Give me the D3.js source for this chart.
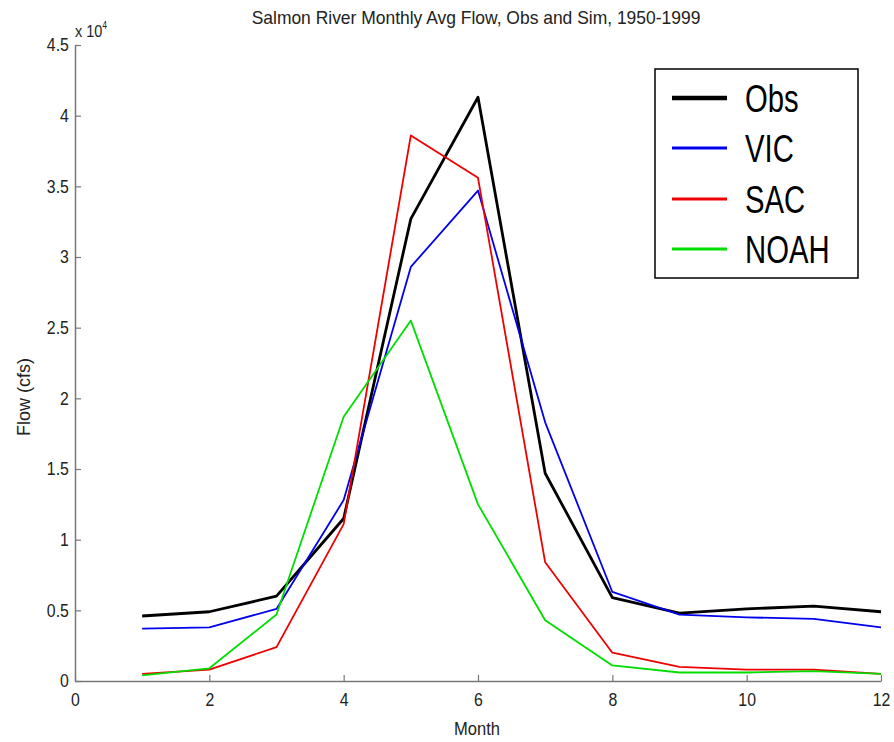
<!DOCTYPE html>
<html><head><meta charset="utf-8">
<script src="https://cdn.jsdelivr.net/npm/d3@7"></script>
<style>
body{margin:0;background:#fff;}
svg{display:block;}
text{font-family:"Liberation Sans",Arial,sans-serif;}
</style></head>
<body>
<svg id="c" width="894" height="742"></svg>
<script>
const months = [1,2,3,4,5,6,7,8,9,10,11,12];
const obs  = [0.46,0.49,0.60,1.15,3.27,4.13,1.47,0.59,0.48,0.51,0.53,0.49];
const vic  = [0.37,0.38,0.51,1.28,2.93,3.47,1.83,0.63,0.47,0.45,0.44,0.38];
const sac  = [0.05,0.08,0.24,1.11,3.86,3.56,0.84,0.20,0.10,0.08,0.08,0.05];
const noah = [0.04,0.09,0.47,1.87,2.55,1.25,0.43,0.11,0.06,0.06,0.07,0.05];
const seriesNames = ["Obs","VIC","SAC","NOAH"];
const seriesColors = ["#000000","#0000ee","#ee0000","#00dd00"];
const xTicks = [0,2,4,6,8,10,12];
const yTicks = [0,0.5,1,1.5,2,2.5,3,3.5,4,4.5];
const series = [obs,vic,sac,noah];

const svg = d3.select("#c");
const x = d3.scaleLinear().domain([0,12]).range([75,881]);
const y = d3.scaleLinear().domain([0,4.5]).range([681,45]);

// axes
const xAxis = svg.append("g").attr("transform","translate(0,681)")
  .call(d3.axisBottom(x).tickValues(xTicks).tickSizeInner(-6).tickSizeOuter(0).tickPadding(12));
const yAxis = svg.append("g").attr("transform","translate(75,0)")
  .call(d3.axisLeft(y).tickValues(yTicks).tickSizeInner(-6).tickSizeOuter(0).tickPadding(7)
    .tickFormat(d=>d===0?"0":String(d)));
[xAxis,yAxis].forEach(a=>{
  a.select(".domain").attr("stroke","#777").attr("stroke-width",1.5);
  a.selectAll(".tick line").attr("stroke","#777").attr("stroke-width",1.2);
  a.selectAll(".tick text").attr("fill","#222").style("font-size","18px")
    .attr("transform","scale(0.88,1)");
});

// lines
const line = d3.line().x((d,i)=>x(months[i])).y(d=>y(d));
series.forEach((s,k)=>{
  svg.append("path").datum(s).attr("d",line).attr("fill","none")
    .attr("stroke",seriesColors[k]).attr("stroke-width",k===0?2.8:1.8)
    .attr("stroke-linejoin","round");
});

function label(txt,tx,ty,size,sx,rot){
  return svg.append("text")
    .attr("transform",`translate(${tx},${ty})${rot?` rotate(${rot})`:""} scale(${sx},1)`)
    .attr("text-anchor","middle").style("font-size",size+"px").attr("fill","#222").text(txt);
}
label("Salmon River Monthly Avg Flow, Obs and Sim, 1950-1999",476,24,18,0.97);
label("Month",477,735,18,0.92);
label("Flow (cfs)",30,397,19,0.95,-90);
const ex = svg.append("text").attr("transform","translate(75,37) scale(0.85,1)")
  .style("font-size","17px").attr("fill","#222");
ex.append("tspan").text("x 10");
ex.append("tspan").attr("dy",-8).style("font-size","10px").text("4");

// legend
const lg = svg.append("g");
lg.append("rect").attr("x",655).attr("y",69).attr("width",203).attr("height",209)
  .attr("fill","#fff").attr("stroke","#000").attr("stroke-width",1.5);
const rowY = [98,148,199,249];
seriesNames.forEach((n,k)=>{
  lg.append("line").attr("x1",672).attr("x2",727).attr("y1",rowY[k]).attr("y2",rowY[k])
    .attr("stroke",seriesColors[k]).attr("stroke-width",k===0?4.5:3);
  lg.append("text").attr("transform",`translate(745,${rowY[k]+14}) scale(0.77,1)`)
    .style("font-size","38px").attr("fill","#000").text(n);
});
</script>
</body></html>
